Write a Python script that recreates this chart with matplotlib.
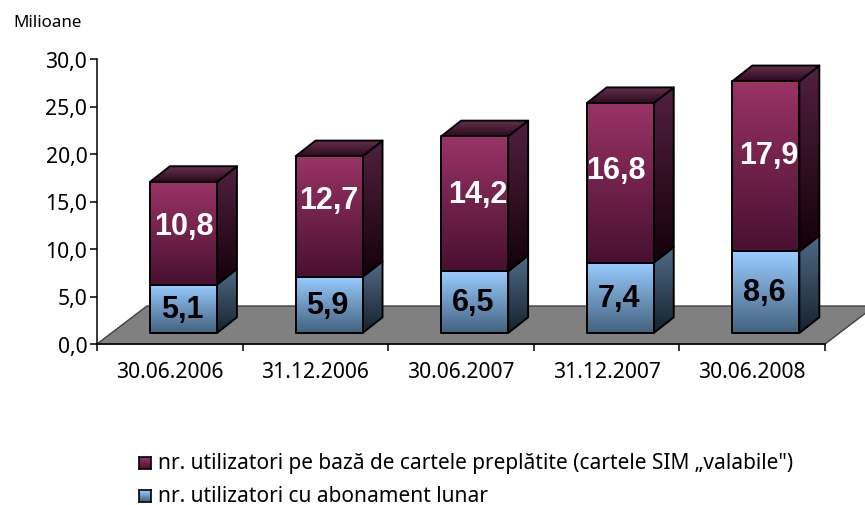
import numpy as np
import matplotlib
matplotlib.use("Agg")
import matplotlib.pyplot as plt
from matplotlib.colors import LinearSegmentedColormap
from matplotlib.patches import Polygon

W, H = 865, 506

dates = ["30.06.2006", "31.12.2006", "30.06.2007", "31.12.2007", "30.06.2008"]
abonament = [5.1, 5.9, 6.5, 7.4, 8.6]
preplatite = [10.8, 12.7, 14.2, 16.8, 17.9]
y_ticks = [0, 5, 10, 15, 20, 25, 30]
y_labels = ["0,0", "5,0", "10,0", "15,0", "20,0", "25,0", "30,0"]
legend_labels = ["nr. utilizatori pe bază de cartele preplătite (cartele SIM „valabile\")",
                 "nr. utilizatori cu abonament lunar"]

# small nudges of the top labels, they do not sit exactly in the middle
label_dx = [0.0, 0.0, 0.02, -0.03, 0.02]
label_dy = [0.8, 1.8, 1.0, 1.4, 1.15]

plt.rcParams['font.family'] = 'Noto Sans'

fig = plt.figure(figsize=(W / 100, H / 100), dpi=100)
ax = fig.add_axes([97 / W, 1 - 345 / H, 728 / W, 285 / H])
ax.set_xlim(0, 5)
ax.set_ylim(0, 30)

# depth of the fake 3d, in data units
floor_dx, floor_dy = 0.343, 4.0
depth_x, depth_y = 0.137, 1.65
bar_w = 0.46
off_x, off_y = 0.094, 1.16


def grad_poly(points, top, bottom, z=2, edge=True):
    pts = np.array(points)
    cmap = LinearSegmentedColormap.from_list("g", [bottom, top])
    grad = np.linspace(1, 0, 64).reshape(-1, 1)
    im = ax.imshow(grad, cmap=cmap, aspect="auto", zorder=z, vmin=0, vmax=1,
                   extent=[pts[:, 0].min(), pts[:, 0].max(), pts[:, 1].min(), pts[:, 1].max()])
    poly = Polygon(points, closed=True, facecolor="none", edgecolor="black" if edge else "none",
                   lw=1.4, zorder=z, clip_on=False, joinstyle="round")
    ax.add_patch(poly)
    im.set_clip_path(poly)
    im.set_clip_on(True)


ax.add_patch(Polygon([(0, 0), (5, 0), (5 + floor_dx, floor_dy), (floor_dx, floor_dy)], closed=True,
                     facecolor="#808080", edgecolor="#404040", lw=1, zorder=1, clip_on=False))

for i in range(len(dates)):
    x0 = i + 0.5 - bar_w / 2 + off_x
    x1 = x0 + bar_w
    y0 = off_y
    y1 = y0 + abonament[i]
    y2 = y1 + preplatite[i]
    z = 2 + i
    grad_poly([(x1, y0), (x1 + depth_x, y0 + depth_y), (x1 + depth_x, y1 + depth_y), (x1, y1)],
              "#4f6b87", "#16222d", z)
    grad_poly([(x1, y1), (x1 + depth_x, y1 + depth_y), (x1 + depth_x, y2 + depth_y), (x1, y2)],
              "#512040", "#150109", z)
    grad_poly([(x0, y2), (x1, y2), (x1 + depth_x, y2 + depth_y), (x0 + depth_x, y2 + depth_y)],
              "#66304f", "#2e0a20", z)
    grad_poly([(x0, y0), (x1, y0), (x1, y1), (x0, y1)], "#99ccff", "#43627f", z)
    grad_poly([(x0, y1), (x1, y1), (x1, y2), (x0, y2)], "#993366", "#491030", z)
    ax.text((x0 + x1) / 2 - 0.01, (y0 + y1) / 2, str(abonament[i]).replace(".", ","), color="black",
            fontsize=22, fontweight="bold", family="Liberation Sans", ha="center", va="center", zorder=20)
    ax.text((x0 + x1) / 2 + label_dx[i], (y1 + y2) / 2 + label_dy[i], str(preplatite[i]).replace(".", ","),
            color="white", fontsize=22, fontweight="bold", family="Liberation Sans", ha="center", va="center",
            zorder=20)

ax.spines["top"].set_visible(False)
ax.spines["right"].set_visible(False)
for s in ["left", "bottom"]:
    ax.spines[s].set_linewidth(1.1)
    ax.spines[s].set_zorder(1.5)

ax.set_yticks(y_ticks)
ax.set_yticklabels(y_labels, fontsize=15.2)
ax.tick_params(axis="y", length=5, width=1.1, pad=2)
ax.set_xticks(range(6))
ax.set_xticklabels([])
ax.tick_params(axis="x", which="major", length=5, width=1.1)
ax.set_xticks(np.arange(len(dates)) + 0.5, minor=True)
ax.set_xticklabels(dates, minor=True, fontsize=15.2)
ax.tick_params(axis="x", which="minor", length=0, pad=12)

fig.text(13 / W, 1 - 23 / H, "Milioane", fontsize=12.2, va="center", ha="left")

# legend by hand because of the gradient squares
rows = [(464, "#993366", "#491030"), (497, "#99ccff", "#43627f")]
for (yp, top, bottom), label in zip(rows, legend_labels):
    sw = fig.add_axes([139 / W, 1 - (yp + 6) / H, 12 / W, 12 / H])
    cmap = LinearSegmentedColormap.from_list("s", [bottom, top])
    sw.imshow(np.linspace(1, 0, 16).reshape(-1, 1), cmap=cmap, aspect="auto")
    sw.set_xticks([])
    sw.set_yticks([])
    for s in sw.spines.values():
        s.set_linewidth(1.2)
    fig.text(158 / W, 1 - (yp + 5) / H, label, fontsize=15.0, va="baseline", ha="left")

fig.savefig("out.png", dpi=100)
